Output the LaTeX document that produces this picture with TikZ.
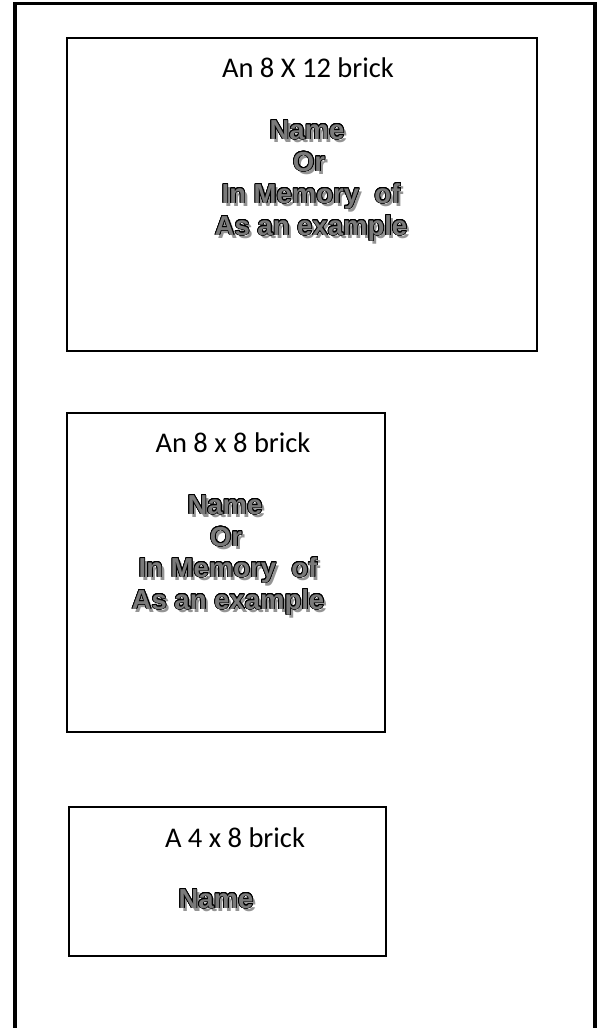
\documentclass[tikz,border=0pt]{standalone}
\usepackage{fontspec}
\setmainfont{Carlito}
\newfontfamily\boldsans{Liberation Sans}[UprightFont=* Bold]
\usepackage{contour}
\contourlength{0.7pt}
\contournumber{24}
\newcommand{\embtext}[1]{%
  \makebox[0pt][l]{\hspace{3pt}\raisebox{-3pt}{\textcolor{black!42}{#1}}}%
  \contour{black}{\textcolor{black!52}{#1}}}
\begin{document}
\begin{tikzpicture}[x=1pt,y=-1pt,
  frame/.style={draw=black,line width=3.5pt},
  brick/.style={draw=black,line width=1.6pt,inner sep=0pt,anchor=north west},
  title/.style={anchor=base,inner sep=0pt,font=\fontsize{28.5}{32}\selectfont},
  emb/.style={anchor=base,inner sep=0pt,font=\boldsans\fontsize{27.5}{30}\selectfont}]
\useasboundingbox (0,0) rectangle (602,1028);
\draw[frame] (15,1040) -- (15,3.5) -- (595,3.5) -- (595,1040);
% bricks
\node[brick,minimum width=470pt,minimum height=313pt] (b1) at (66,37) {};
\node[brick,minimum width=318pt,minimum height=319pt] (b2) at (66,412) {};
\node[brick,minimum width=317pt,minimum height=149pt] (b3) at (68,806) {};
% brick 1
\node[title] (t1) at (308,77) {An 8 X 12 brick};
\node[emb] (n11) at (307,139) {\embtext{Name}};
\node[emb] (n12) at (309,171) {\embtext{Or}};
\node[emb] (n13) at (311,203) {\embtext{In Memory\ \ of}};
\node[emb] (n14) at (311,235) {\embtext{As an example}};
% brick 2
\node[title] (t2) at (233,452) {An 8 x 8 brick};
\node[emb] (n21) at (225,514) {\embtext{Name}};
\node[emb] (n22) at (226,546) {\embtext{Or}};
\node[emb] (n23) at (228,577) {\embtext{In Memory\ \ of}};
\node[emb] (n24) at (228,609) {\embtext{As an example}};
% brick 3
\node[title] (t3) at (235,847) {A 4 x 8 brick};
\node[emb] (n31) at (216,908) {\embtext{Name}};
\end{tikzpicture}
\end{document}
